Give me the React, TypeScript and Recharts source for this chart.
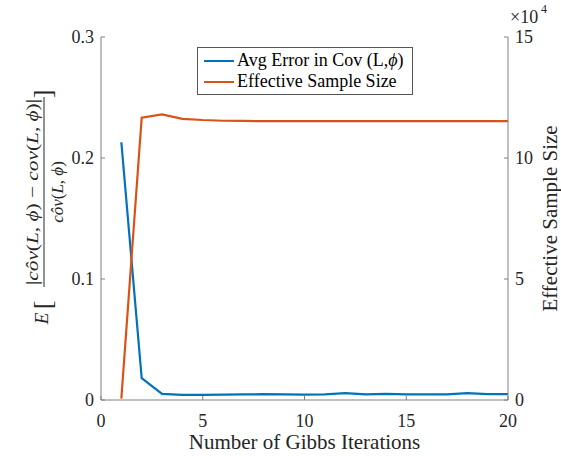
import React from 'react';
import { LineChart, Line, XAxis, YAxis, Legend } from 'recharts';

const iterations = [1, 2, 3, 4, 5, 6, 7, 8, 9, 10, 11, 12, 13, 14, 15, 16, 17, 18, 19, 20];
const avgError = [0.213, 0.018, 0.005, 0.0042, 0.0042, 0.0045, 0.0046, 0.0048, 0.0046, 0.0045, 0.0046, 0.0056, 0.0046, 0.005, 0.0047, 0.0046, 0.0046, 0.0056, 0.0048, 0.0048];
const sampleSize = [600, 116700, 118000, 116200, 115700, 115400, 115300, 115250, 115200, 115200, 115200, 115200, 115200, 115200, 115200, 115200, 115200, 115200, 115200, 115200];

const xTicks = [0, 5, 10, 15, 20];
const leftTicks = [0, 0.1, 0.2, 0.3];
const rightTicks = [0, 50000, 100000, 150000];

const data = iterations.map((it, i) => ({ iter: it, err: avgError[i], ess: sampleSize[i] }));

const FONT = '"Liberation Serif", "Times New Roman", serif';
const AXIS = '#808080';
const INK = '#262626';
const BLUE = '#0072BD';
const ORANGE = '#D95319';

const txt = { fontFamily: FONT };

const LeftTick = (props: any) => {
  const { x, y, payload } = props;
  return (
    <g>
      <line x1={x} x2={x + 4} y1={y} y2={y} stroke={AXIS} />
      <text x={x - 7} y={y} dy="0.35em" textAnchor="end" fontSize={18} fill={INK} style={txt}>
        {payload.value === 0 ? '0' : String(payload.value)}
      </text>
    </g>
  );
};

const RightTick = (props: any) => {
  const { x, y, payload } = props;
  return (
    <g>
      <line x1={x - 4} x2={x} y1={y} y2={y} stroke={AXIS} />
      <text x={x + 7} y={y} dy="0.35em" textAnchor="start" fontSize={18} fill={INK} style={txt}>
        {payload.value / 10000}
      </text>
    </g>
  );
};

const BottomTick = (props: any) => {
  const { x, y, payload } = props;
  return (
    <g>
      <line x1={x} x2={x} y1={y - 4} y2={y} stroke={AXIS} />
      <text x={x} y={y + 27} textAnchor="middle" fontSize={18} fill={INK} style={txt}>
        {payload.value}
      </text>
    </g>
  );
};

const TopTick = (props: any) => {
  const { x, y } = props;
  return <line x1={x} x2={x} y1={y} y2={y + 4} stroke={AXIS} />;
};

const LegendBox = (props: any) => {
  const items = props.payload || [];
  return (
    <div
      style={{
        border: '1px solid #555',
        background: '#fff',
        padding: '2px 4px 2px 6px',
        fontFamily: FONT,
        fontSize: 18,
        color: '#000',
      }}
    >
      {items.map((it: any) => (
        <div key={it.value} style={{ display: 'flex', alignItems: 'center', height: 21 }}>
          <div style={{ width: 30, height: 2, background: it.color, marginRight: 3 }} />
          <span style={{ whiteSpace: 'nowrap' }}>
            {it.value === 'err' ? (
              <>Avg Error in Cov (L,<i>ϕ</i>)</>
            ) : (
              'Effective Sample Size'
            )}
          </span>
        </div>
      ))}
    </div>
  );
};

export default function App() {
  return (
    <div style={{ position: 'absolute', left: 0, top: 0, width: 561, height: 456, background: '#fff' }}>
      <LineChart width={561} height={456} data={data} margin={{ top: 37, right: 13, bottom: 26, left: 41 }}>
        <XAxis
          xAxisId="bottom"
          dataKey="iter"
          type="number"
          domain={[0, 20]}
          ticks={xTicks}
          height={30}
          tickSize={0}
          tickMargin={0}
          tickLine={false}
          axisLine={{ stroke: AXIS }}
          tick={<BottomTick />}
        />
        <XAxis
          xAxisId="top"
          orientation="top"
          dataKey="iter"
          type="number"
          domain={[0, 20]}
          ticks={xTicks}
          height={0}
          tickSize={0}
          tickMargin={0}
          tickLine={false}
          axisLine={{ stroke: AXIS }}
          tick={<TopTick />}
        />
        <YAxis
          yAxisId="left"
          domain={[0, 0.3]}
          ticks={leftTicks}
          width={60}
          tickSize={0}
          tickMargin={0}
          tickLine={false}
          axisLine={{ stroke: AXIS }}
          tick={<LeftTick />}
        />
        <YAxis
          yAxisId="right"
          orientation="right"
          domain={[0, 150000]}
          ticks={rightTicks}
          width={40}
          tickSize={0}
          tickMargin={0}
          tickLine={false}
          axisLine={{ stroke: AXIS }}
          tick={<RightTick />}
        />
        <Legend
          layout="vertical"
          align="center"
          verticalAlign="middle"
          content={<LegendBox />}
          wrapperStyle={{ left: 197, top: 47, width: 216 }}
        />
        <Line
          xAxisId="bottom"
          yAxisId="left"
          dataKey="err"
          name="err"
          stroke={BLUE}
          strokeWidth={2.2}
          dot={false}
          isAnimationActive={false}
        />
        <Line
          xAxisId="bottom"
          yAxisId="right"
          dataKey="ess"
          name="ess"
          stroke={ORANGE}
          strokeWidth={2.2}
          dot={false}
          isAnimationActive={false}
        />
      </LineChart>
      <svg
        width={561}
        height={456}
        style={{ position: 'absolute', left: 0, top: 0, pointerEvents: 'none', fontFamily: FONT }}
      >
        <text x={510} y={23} fontSize={18} fill={INK} style={txt}>×10</text>
        <text x={541} y={13} fontSize={12} fill={INK} style={txt}>4</text>
        <text x={304.5} y={449} fontSize={21} textAnchor="middle" fill={INK} style={txt}>
          Number of Gibbs Iterations
        </text>
        <text transform="translate(557,218.5) rotate(-90)" fontSize={21} textAnchor="middle" fill={INK} style={txt}>
          Effective Sample Size
        </text>
        <g transform="translate(44,192) rotate(-90)" fill={INK} style={txt}>
          <text x={-126.5} y={4} fontSize={19} fontStyle="italic" textAnchor="middle">E</text>
          <text x={-113} y={7} fontSize={26} textAnchor="middle">[</text>
          <text x={0} y={-6} fontSize={17} textAnchor="middle" textLength={186} lengthAdjust="spacingAndGlyphs">
            |<tspan fontStyle="italic">côv</tspan>(<tspan fontStyle="italic">L</tspan>, <tspan fontStyle="italic">ϕ</tspan>) − <tspan fontStyle="italic">cov</tspan>(<tspan fontStyle="italic">L</tspan>, <tspan fontStyle="italic">ϕ</tspan>)|
          </text>
          <line x1={-95} x2={95} y1={0} y2={0} stroke={INK} strokeWidth={1} />
          <text x={0} y={19} fontSize={17} textAnchor="middle">
            <tspan fontStyle="italic">côv</tspan>(<tspan fontStyle="italic">L</tspan>, <tspan fontStyle="italic">ϕ</tspan>)
          </text>
          <text x={98} y={7} fontSize={26} textAnchor="middle">]</text>
        </g>
      </svg>
    </div>
  );
}
